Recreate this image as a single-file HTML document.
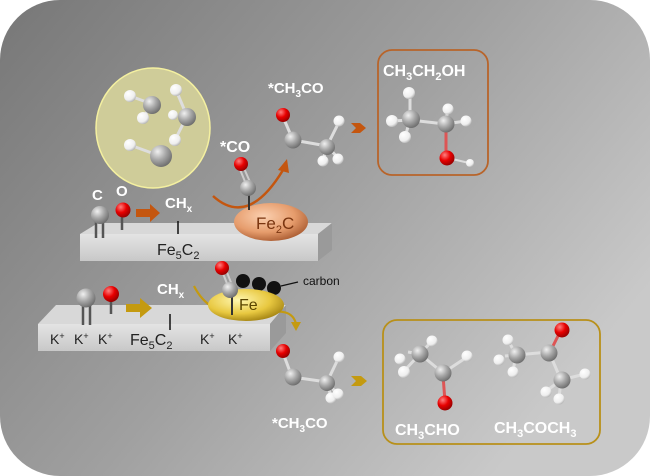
<!DOCTYPE html>
<html><head><meta charset="utf-8"><style>
html,body{margin:0;padding:0;background:#fff;}
svg{display:block;}
text{font-family:"Liberation Sans",Arial,sans-serif;}
</style></head><body>
<svg width="650" height="476" viewBox="0 0 650 476" xmlns="http://www.w3.org/2000/svg">
<defs>
<linearGradient id="bg" x1="0" y1="0" x2="1" y2="0.6">
<stop offset="0" stop-color="#777"/><stop offset="0.55" stop-color="#a0a0a0"/><stop offset="1" stop-color="#c9c9c9"/>
</linearGradient>
<radialGradient id="g" cx="0.35" cy="0.3" r="0.75"><stop offset="0" stop-color="#f0f0f0"/><stop offset="0.5" stop-color="#a8a8a8"/><stop offset="1" stop-color="#6a6a6a"/></radialGradient>
<radialGradient id="r" cx="0.35" cy="0.3" r="0.75"><stop offset="0" stop-color="#ff8080"/><stop offset="0.5" stop-color="#e80000"/><stop offset="1" stop-color="#900000"/></radialGradient>
<radialGradient id="h" cx="0.35" cy="0.3" r="0.75"><stop offset="0" stop-color="#ffffff"/><stop offset="0.7" stop-color="#eeeeee"/><stop offset="1" stop-color="#b0b0b0"/></radialGradient>
<radialGradient id="fe2c" cx="0.4" cy="0.35" r="0.7"><stop offset="0" stop-color="#fbd0b0"/><stop offset="0.6" stop-color="#e69c6c"/><stop offset="1" stop-color="#a85a30"/></radialGradient>
<radialGradient id="fe" cx="0.4" cy="0.35" r="0.7"><stop offset="0" stop-color="#fff7b0"/><stop offset="0.6" stop-color="#e8c840"/><stop offset="1" stop-color="#a08010"/></radialGradient>
<linearGradient id="slab" x1="0" y1="0" x2="0" y2="1"><stop offset="0" stop-color="#e4e4e4"/><stop offset="1" stop-color="#c8c8c8"/></linearGradient>
</defs>
<rect x="0" y="0" width="650" height="476" rx="60" fill="url(#bg)"/>

<!-- yellow circle -->
<ellipse cx="153" cy="128" rx="57" ry="60" fill="#cfcc99" stroke="#f4f0a0" stroke-width="1.5"/>
<g stroke="#ddd" stroke-width="3">
<line x1="130" y1="96" x2="152" y2="104"/><line x1="152" y1="104" x2="143" y2="118"/>
<line x1="176" y1="90" x2="187" y2="116"/><line x1="187" y1="116" x2="175" y2="140"/>
<line x1="130" y1="145" x2="160" y2="156"/>
</g>
<circle cx="130" cy="96" r="6" fill="url(#h)"/><circle cx="143" cy="118" r="6" fill="url(#h)"/>
<circle cx="152" cy="105" r="9" fill="url(#g)"/>
<circle cx="176" cy="90" r="6" fill="url(#h)"/><circle cx="173" cy="115" r="5" fill="url(#h)"/><circle cx="175" cy="140" r="6" fill="url(#h)"/>
<circle cx="187" cy="117" r="9" fill="url(#g)"/>
<circle cx="130" cy="145" r="6" fill="url(#h)"/>
<circle cx="161" cy="156" r="11" fill="url(#g)"/>

<!-- top slab -->
<polygon points="80,234 98,223 332,223 318,234" fill="#d8d8d8"/>
<polygon points="318,234 332,223 332,250 318,261" fill="#9a9a9a"/>
<rect x="80" y="234" width="238" height="27" fill="url(#slab)"/>
<text x="157" y="255" font-size="16" fill="#222">Fe<tspan font-size="11" dy="4">5</tspan><tspan dy="-4">C</tspan><tspan font-size="11" dy="4">2</tspan></text>

<text x="92" y="200" font-size="15" font-weight="bold" fill="#fff">C</text>
<text x="116" y="196" font-size="15" font-weight="bold" fill="#fff">O</text>
<g stroke="#555" stroke-width="2.5"><line x1="96" y1="218" x2="96" y2="238"/><line x1="103" y1="218" x2="103" y2="238"/><line x1="122" y1="212" x2="122" y2="230"/></g>
<circle cx="100" cy="215" r="9" fill="url(#g)"/>
<circle cx="123" cy="210" r="7.5" fill="url(#r)"/>
<polygon points="136,209 150,209 150,204 160,213 150,222 150,217 136,217" fill="#c4560f"/>
<text x="165" y="208" font-size="15" font-weight="bold" fill="#fff">CH<tspan font-size="10" dy="4">x</tspan></text>
<line x1="178" y1="221" x2="178" y2="234" stroke="#111" stroke-width="1.5"/>

<!-- Fe2C -->
<path d="M213,196 Q248,228 283,170" fill="none" stroke="#c4560f" stroke-width="2.5"/>
<polygon points="278,170 287,159 289,173" fill="#c4560f"/>
<ellipse cx="271" cy="222" rx="37" ry="19" fill="url(#fe2c)"/>
<text x="256" y="229" font-size="17" fill="#7a3510">Fe<tspan font-size="11" dy="4">2</tspan><tspan dy="-4">C</tspan></text>
<line x1="249" y1="190" x2="249" y2="210" stroke="#333" stroke-width="2"/>
<g stroke="#ccc" stroke-width="2"><line x1="239" y1="167" x2="246" y2="184"/><line x1="243" y1="166" x2="250" y2="182"/></g>
<circle cx="241" cy="164" r="7" fill="url(#r)"/>
<circle cx="248" cy="188" r="8" fill="url(#g)"/>
<text x="220" y="152" font-size="16" font-weight="bold" fill="#fff">*CO</text>

<!-- CH3CO top -->
<text x="268" y="93" font-size="15" font-weight="bold" fill="#fff">*CH<tspan font-size="10" dy="4">3</tspan><tspan dy="-4">CO</tspan></text>
<g stroke="#ddd" stroke-width="3"><line x1="283" y1="117" x2="293" y2="140"/><line x1="293" y1="140" x2="327" y2="146"/><line x1="327" y1="146" x2="339" y2="122"/><line x1="327" y1="146" x2="323" y2="160"/><line x1="327" y1="146" x2="338" y2="158"/></g>
<circle cx="283" cy="115" r="7" fill="url(#r)"/>
<circle cx="293" cy="140" r="8.5" fill="url(#g)"/>
<circle cx="339" cy="121" r="5.5" fill="url(#h)"/>
<circle cx="327" cy="147" r="8" fill="url(#g)"/>
<circle cx="323" cy="161" r="5.5" fill="url(#h)"/><circle cx="338" cy="159" r="5.5" fill="url(#h)"/>
<polygon points="351,123 360,123 366,128 360,133 351,133 356,128" fill="#c4560f"/>

<!-- ethanol box -->
<rect x="378" y="50" width="110" height="125" rx="14" fill="none" stroke="#b8642a" stroke-width="1.8"/>
<text x="383" y="76" font-size="16" font-weight="bold" fill="#fff">CH<tspan font-size="11" dy="4">3</tspan><tspan dy="-4">CH</tspan><tspan font-size="11" dy="4">2</tspan><tspan dy="-4">OH</tspan></text>
<g stroke="#ddd" stroke-width="3"><line x1="410" y1="92" x2="410" y2="120"/><line x1="410" y1="120" x2="392" y2="121"/><line x1="410" y1="120" x2="405" y2="137"/><line x1="410" y1="120" x2="445" y2="124"/><line x1="445" y1="124" x2="448" y2="110"/><line x1="445" y1="124" x2="466" y2="121"/></g>
<line x1="446" y1="126" x2="446" y2="158" stroke="#d55" stroke-width="3"/>
<line x1="448" y1="158" x2="469" y2="163" stroke="#ddd" stroke-width="2"/>
<circle cx="409" cy="93" r="6" fill="url(#h)"/>
<circle cx="392" cy="121" r="6" fill="url(#h)"/><circle cx="405" cy="137" r="6" fill="url(#h)"/>
<circle cx="411" cy="119" r="9" fill="url(#g)"/>
<circle cx="448" cy="109" r="5.5" fill="url(#h)"/><circle cx="466" cy="121" r="5.5" fill="url(#h)"/>
<circle cx="446" cy="124" r="8.5" fill="url(#g)"/>
<circle cx="447" cy="158" r="7.5" fill="url(#r)"/>
<circle cx="470" cy="163" r="4" fill="url(#h)"/>

<!-- bottom slab -->
<polygon points="38,324 56,305 286,305 270,324" fill="#d8d8d8"/>
<polygon points="270,324 286,305 286,333 270,351" fill="#9a9a9a"/>
<rect x="38" y="324" width="232" height="27" fill="url(#slab)"/>
<g font-size="14" fill="#222"><text x="50" y="344">K<tspan font-size="9" dy="-5">+</tspan></text><text x="74" y="344">K<tspan font-size="9" dy="-5">+</tspan></text><text x="98" y="344">K<tspan font-size="9" dy="-5">+</tspan></text><text x="200" y="344">K<tspan font-size="9" dy="-5">+</tspan></text><text x="228" y="344">K<tspan font-size="9" dy="-5">+</tspan></text></g>
<text x="130" y="345" font-size="16" fill="#222">Fe<tspan font-size="11" dy="4">5</tspan><tspan dy="-4">C</tspan><tspan font-size="11" dy="4">2</tspan></text>

<g stroke="#555" stroke-width="2.5"><line x1="83" y1="302" x2="83" y2="325"/><line x1="90" y1="302" x2="90" y2="325"/><line x1="111" y1="298" x2="111" y2="314"/></g>
<circle cx="86" cy="298" r="9.5" fill="url(#g)"/>
<circle cx="111" cy="294" r="8" fill="url(#r)"/>
<polygon points="126,304 140,304 140,298 152,308 140,318 140,312 126,312" fill="#c49a10"/>
<text x="157" y="294" font-size="15" font-weight="bold" fill="#fff">CH<tspan font-size="10" dy="4">x</tspan></text>
<line x1="170" y1="314" x2="170" y2="330" stroke="#111" stroke-width="1.5"/>

<!-- Fe particle -->
<path d="M194,286 Q212,322 262,314 Q292,306 296,324" fill="none" stroke="#c49a10" stroke-width="2.2"/>
<polygon points="291,322 301,322 296,331" fill="#c49a10"/>
<ellipse cx="243" cy="281" rx="7" ry="7" fill="#111"/><ellipse cx="259" cy="284" rx="7" ry="7" fill="#111"/><ellipse cx="274" cy="288" rx="7" ry="7" fill="#111"/>
<line x1="281" y1="286" x2="298" y2="282" stroke="#111" stroke-width="1.2"/>
<text x="303" y="285" font-size="12" fill="#111">carbon</text>
<ellipse cx="246" cy="305" rx="38" ry="16" fill="url(#fe)"/>
<text x="239" y="310" font-size="16" fill="#5a4500">Fe</text>
<line x1="232" y1="294" x2="232" y2="315" stroke="#333" stroke-width="2"/>
<g stroke="#ccc" stroke-width="2"><line x1="222" y1="271" x2="228" y2="286"/><line x1="226" y1="270" x2="232" y2="285"/></g>
<circle cx="222" cy="268" r="7" fill="url(#r)"/>
<circle cx="230" cy="290" r="8" fill="url(#g)"/>

<!-- CH3CO bottom -->
<g stroke="#ddd" stroke-width="3"><line x1="283" y1="353" x2="292" y2="377"/><line x1="292" y1="377" x2="327" y2="382"/><line x1="327" y1="382" x2="339" y2="357"/><line x1="327" y1="382" x2="331" y2="397"/><line x1="327" y1="382" x2="338" y2="395"/></g>
<circle cx="283" cy="351" r="7" fill="url(#r)"/>
<circle cx="293" cy="377" r="8.5" fill="url(#g)"/>
<circle cx="339" cy="357" r="5.5" fill="url(#h)"/>
<circle cx="327" cy="383" r="8" fill="url(#g)"/>
<circle cx="331" cy="398" r="5.5" fill="url(#h)"/><circle cx="338" cy="394" r="5.5" fill="url(#h)"/>
<text x="272" y="428" font-size="15" font-weight="bold" fill="#fff">*CH<tspan font-size="10" dy="4">3</tspan><tspan dy="-4">CO</tspan></text>
<polygon points="351,376 361,376 367,381 361,386 351,386 356,381" fill="#c49a10"/>

<!-- box 2 -->
<rect x="383" y="320" width="217" height="124" rx="14" fill="none" stroke="#b8901a" stroke-width="1.8"/>
<g stroke="#ddd" stroke-width="3"><line x1="408" y1="352" x2="420" y2="354"/><line x1="420" y1="354" x2="432" y2="341"/><line x1="420" y1="354" x2="404" y2="371"/><line x1="420" y1="354" x2="443" y2="373"/><line x1="443" y1="373" x2="467" y2="357"/><line x1="505" y1="356" x2="516" y2="355"/><line x1="516" y1="355" x2="508" y2="340"/><line x1="516" y1="355" x2="513" y2="371"/><line x1="516" y1="355" x2="549" y2="352"/><line x1="549" y1="352" x2="561" y2="380"/><line x1="561" y1="380" x2="585" y2="374"/><line x1="561" y1="380" x2="559" y2="398"/><line x1="561" y1="380" x2="545" y2="392"/></g>
<line x1="443" y1="375" x2="445" y2="402" stroke="#d55" stroke-width="3"/>
<line x1="551" y1="350" x2="561" y2="330" stroke="#d55" stroke-width="3"/>
<circle cx="400" cy="359" r="5.5" fill="url(#h)"/><circle cx="432" cy="341" r="5.5" fill="url(#h)"/><circle cx="404" cy="372" r="6" fill="url(#h)"/>
<circle cx="420" cy="354" r="8.5" fill="url(#g)"/>
<circle cx="467" cy="356" r="5.5" fill="url(#h)"/>
<circle cx="443" cy="373" r="8.5" fill="url(#g)"/>
<circle cx="445" cy="403" r="7.5" fill="url(#r)"/>
<circle cx="508" cy="340" r="5.5" fill="url(#h)"/><circle cx="499" cy="360" r="5.5" fill="url(#h)"/><circle cx="513" cy="372" r="5.5" fill="url(#h)"/>
<circle cx="517" cy="355" r="8.5" fill="url(#g)"/>
<circle cx="549" cy="353" r="8.5" fill="url(#g)"/>
<circle cx="562" cy="330" r="7.5" fill="url(#r)"/>
<circle cx="585" cy="374" r="5.5" fill="url(#h)"/><circle cx="559" cy="399" r="5.5" fill="url(#h)"/><circle cx="546" cy="392" r="5.5" fill="url(#h)"/>
<circle cx="562" cy="380" r="8.5" fill="url(#g)"/>
<text x="395" y="435" font-size="16" font-weight="bold" fill="#fff">CH<tspan font-size="11" dy="4">3</tspan><tspan dy="-4">CHO</tspan></text>
<text x="494" y="433" font-size="16" font-weight="bold" fill="#fff">CH<tspan font-size="11" dy="4">3</tspan><tspan dy="-4">COCH</tspan><tspan font-size="11" dy="4">3</tspan></text>
</svg>
</body></html>
